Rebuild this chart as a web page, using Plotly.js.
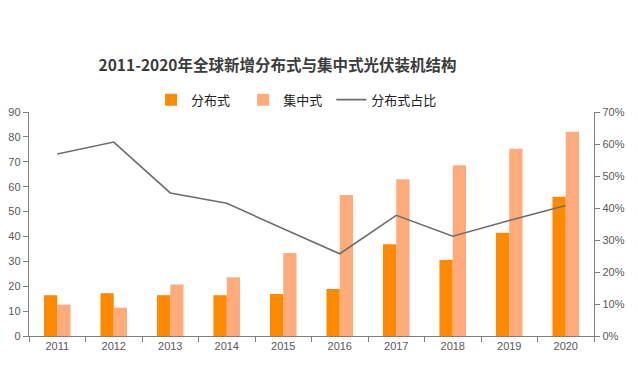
<!DOCTYPE html>
<html>
<head>
<meta charset="utf-8">
<script src="https://cdn.plot.ly/plotly-3.0.1.min.js"></script>
<style>html,body{margin:0;padding:0;background:#fff;}#chart{width:638px;height:375px;}</style>
</head>
<body>
<div id="chart"></div>
<script>
const years = ['2011','2012','2013','2014','2015','2016','2017','2018','2019','2020'];
const distributed = [16.4, 17.2, 16.4, 16.4, 16.9, 18.9, 36.9, 30.5, 41.5, 55.9];
const centralized = [12.6, 11.4, 20.7, 23.6, 33.3, 56.7, 63.0, 68.6, 75.2, 82.1];
const distShare = [0.569, 0.606, 0.447, 0.415, 0.335, 0.257, 0.377, 0.312, 0.361, 0.408];

const tickFont = {family: 'Liberation Sans, Arial, sans-serif', size: 11, color: '#595959'};
const cjk = 'Noto Sans CJK SC, sans-serif';

const traces = [
  {type: 'bar', name: '分布式', x: years, y: distributed, marker: {color: '#FF8A00'}, yaxis: 'y', legend: 'legend'},
  {type: 'bar', name: '集中式', x: years, y: centralized, marker: {color: '#FFAB7B'}, yaxis: 'y', legend: 'legend2'},
  {type: 'scatter', mode: 'lines', name: '分布式占比', x: years, y: distShare, yaxis: 'y2', legend: 'legend3',
   line: {color: '#6E6E6E', width: 1.6}}
];

function legendAt(xp) {
  return {orientation: 'h', x: xp, xanchor: 'left', y: 1.055, yanchor: 'middle',
          font: {family: cjk, size: 13, color: '#222'}, bgcolor: 'rgba(0,0,0,0)', itemwidth: 30};
}

const layout = {
  width: 638, height: 375,
  margin: {l: 29, r: 44, t: 112, b: 39},
  paper_bgcolor: '#fff', plot_bgcolor: '#fff',
  barmode: 'group', bargap: 0.53, bargroupgap: 0,
  title: {text: '2011-2020年全球新增分布式与集中式光伏装机结构', x: 0.435, xanchor: 'center', y: 0.825, yanchor: 'middle',
          font: {family: cjk, size: 15.5, color: '#3C3C3C', weight: 'bold'}},
  showlegend: true,
  legend: legendAt(0.216),
  legend2: legendAt(0.379),
  legend3: legendAt(0.535),
  xaxis: {type: 'category', showline: true, linecolor: '#7F7F7F', linewidth: 1.2, showgrid: false,
          ticks: 'outside', tickson: 'boundaries', ticklen: 5, tickcolor: '#7F7F7F', tickfont: tickFont, zeroline: false},
  yaxis: {range: [0, 90], dtick: 10, showline: true, linecolor: '#7F7F7F', linewidth: 1.2, showgrid: false,
          ticks: 'outside', ticklen: 5, tickcolor: '#7F7F7F', tickfont: tickFont, zeroline: false},
  yaxis2: {range: [0, 0.7], dtick: 0.1, tickformat: '.0%', overlaying: 'y', side: 'right', showline: true,
           linecolor: '#7F7F7F', linewidth: 1.2, showgrid: false, ticks: 'outside', ticklen: 5, tickcolor: '#7F7F7F',
           tickfont: tickFont, zeroline: false}
};

Plotly.newPlot('chart', traces, layout, {displayModeBar: false, staticPlot: true});
</script>
</body>
</html>
